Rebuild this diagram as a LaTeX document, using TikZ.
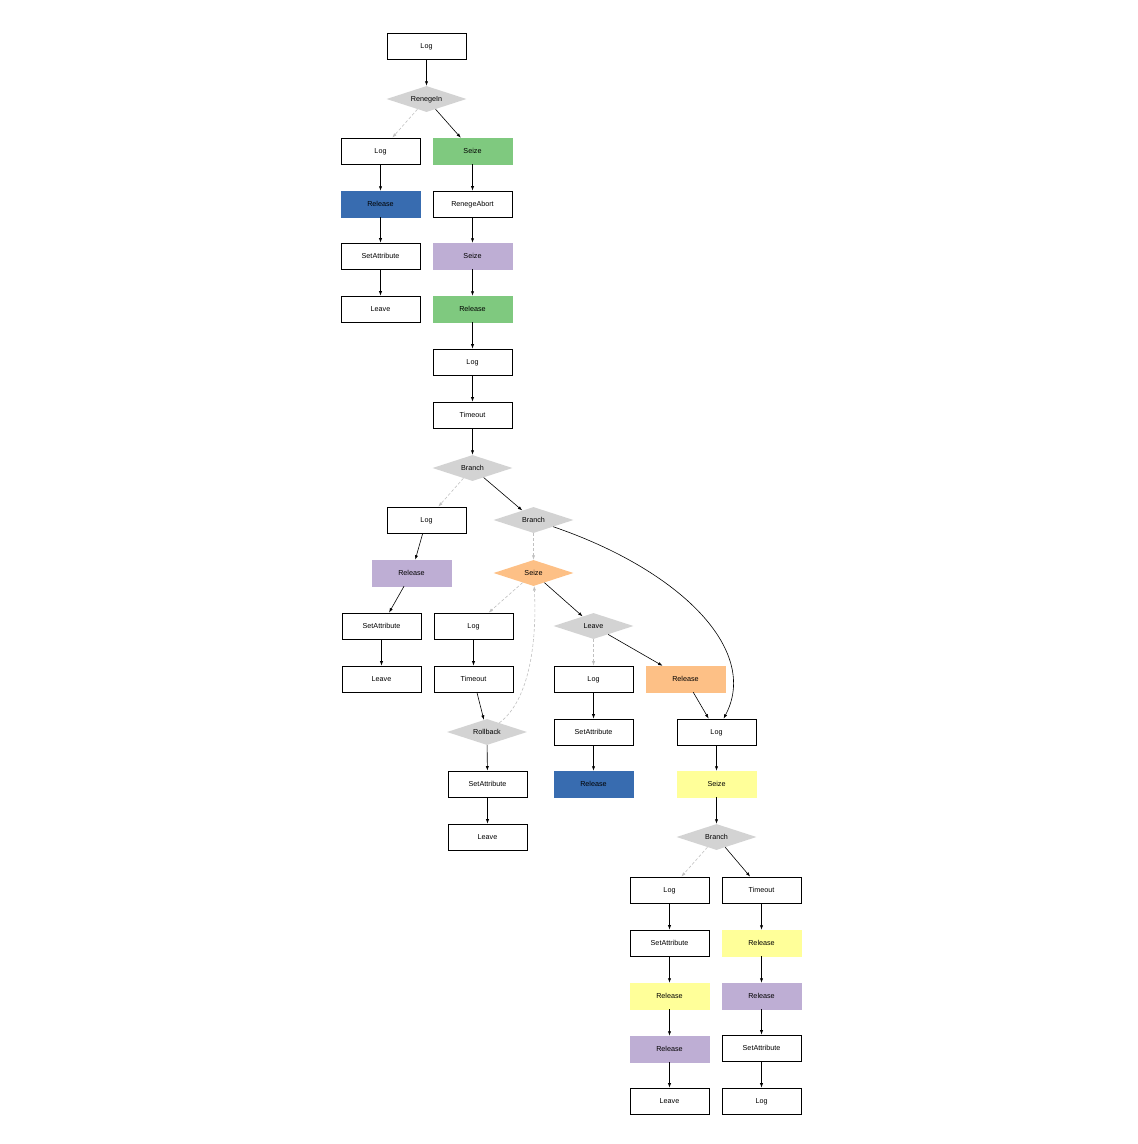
\documentclass[tikz,border=0pt]{standalone}
\usepackage{fontspec}
\setmainfont{Liberation Sans}
\usetikzlibrary{shapes.geometric,arrows.meta}
\definecolor{cgreen}{HTML}{7FC97F}
\definecolor{cblue}{HTML}{386CB0}
\definecolor{cpurple}{HTML}{BEAED4}
\definecolor{corange}{HTML}{FDC086}
\definecolor{cyellow}{HTML}{FFFF99}
\definecolor{cgray}{HTML}{D3D3D3}
\definecolor{cdash}{HTML}{C0C0C0}
\begin{document}
\begin{tikzpicture}[x=1pt,y=-1pt,
  every node/.style={font=\fontsize{7.2}{8}\selectfont, inner sep=0pt, text height=5.2pt, text depth=0pt},
  wbox/.style={draw=black, line width=0.7pt, fill=white, minimum width=79pt, minimum height=26pt},
  cbox/.style={fill=#1, draw=#1, minimum width=79pt, minimum height=26pt},
  dia/.style={diamond, shape aspect=3, fill=#1, minimum width=80pt, minimum height=26pt},
  dia/.default=cgray,
  sol/.style={draw=black, line width=0.6pt, -{Latex[length=4.5pt,width=3.2pt]}},
  dsh/.style={draw=cdash, line width=0.6pt, dash pattern=on 3pt off 2pt, -{Latex[length=4.5pt,width=3.2pt]}}
]
\useasboundingbox (0,0) rectangle (1138,1144);
% top
\node[wbox] (log1) at (426.5,46) {Log};
\node[dia] (ren) at (426.5,99) {RenegeIn};
% left column
\node[wbox] (logL) at (380.5,151) {Log};
\node[cbox=cblue] (relL) at (380.5,204) {Release};
\node[wbox] (setL) at (380.5,256) {SetAttribute};
\node[wbox] (leaveL) at (380.5,309) {Leave};
% right column
\node[cbox=cgreen] (seizeG) at (472.5,151) {Seize};
\node[wbox] (rabort) at (472.5,204) {RenegeAbort};
\node[cbox=cpurple] (seizeP) at (472.5,256) {Seize};
\node[cbox=cgreen] (relG) at (472.5,309) {Release};
\node[wbox] (log2) at (472.5,362) {Log};
\node[wbox] (tout1) at (472.5,415) {Timeout};
\node[dia] (br1) at (472.5,468) {Branch};
% branch 1 left
\node[wbox] (log3) at (426.5,520) {Log};
\node[cbox=cpurple] (relP1) at (411.5,573) {Release};
\node[wbox] (set3) at (381.5,626) {SetAttribute};
\node[wbox] (leave3) at (381.5,679) {Leave};
% branch 2
\node[dia] (br2) at (533.5,520) {Branch};
\node[dia=corange] (seizeO) at (533.5,573) {Seize};
\node[wbox] (log4) at (473.5,626) {Log};
\node[wbox] (tout4) at (473.5,679) {Timeout};
\node[dia] (rb) at (487,732) {Rollback};
\node[wbox] (set4) at (487.5,784) {SetAttribute};
\node[wbox] (leave4) at (487.5,837) {Leave};
\node[dia] (leaveD) at (593.5,626) {Leave};
\node[wbox] (log5) at (593.5,679) {Log};
\node[wbox] (set5) at (593.5,732) {SetAttribute};
\node[cbox=cblue] (relB) at (593.5,784) {Release};
\node[cbox=corange] (relO) at (685.5,679) {Release};
\node[wbox] (log6) at (716.5,732) {Log};
\node[cbox=cyellow] (seizeY) at (716.5,784) {Seize};
\node[dia] (br3) at (716.5,837) {Branch};
% bottom left
\node[wbox] (log7) at (669.5,890) {Log};
\node[wbox] (set7) at (669.5,943) {SetAttribute};
\node[cbox=cyellow] (relY7) at (669.5,996) {Release};
\node[cbox=cpurple] (relP7) at (669.5,1049) {Release};
\node[wbox] (leave7) at (669.5,1101) {Leave};
% bottom right
\node[wbox] (tout8) at (761.5,890) {Timeout};
\node[cbox=cyellow] (relY8) at (761.5,943) {Release};
\node[cbox=cpurple] (relP8) at (761.5,996) {Release};
\node[wbox] (set8) at (761.5,1048) {SetAttribute};
\node[wbox] (log8) at (761.5,1101) {Log};
% solid edges
\foreach \a/\b in {log1/ren, ren/seizeG, logL/relL, relL/setL, setL/leaveL,
  seizeG/rabort, rabort/seizeP, seizeP/relG, relG/log2, log2/tout1, tout1/br1,
  br1/br2, log3/relP1, relP1/set3, set3/leave3, seizeO/leaveD, log4/tout4,
  tout4/rb, rb/set4, set4/leave4, leaveD/relO, log5/set5, set5/relB, relO/log6,
  log6/seizeY, seizeY/br3, br3/tout8, log7/set7, set7/relY7, relY7/relP7,
  relP7/leave7, tout8/relY8, relY8/relP8, relP8/set8, set8/log8}
  \draw[sol] (\a) -- (\b);
% dashed edges
\foreach \a/\b in {ren/logL, br1/log3, br2/seizeO, seizeO/log4, leaveD/log5, br3/log7}
  \draw[dsh] (\a) -- (\b);
% curved edges
\draw[sol] (br2) .. controls (680,570) and (760,650) .. (log6);
\draw[dsh] (rb) .. controls (530,700) and (537,640) .. (seizeO);
\end{tikzpicture}
\end{document}
